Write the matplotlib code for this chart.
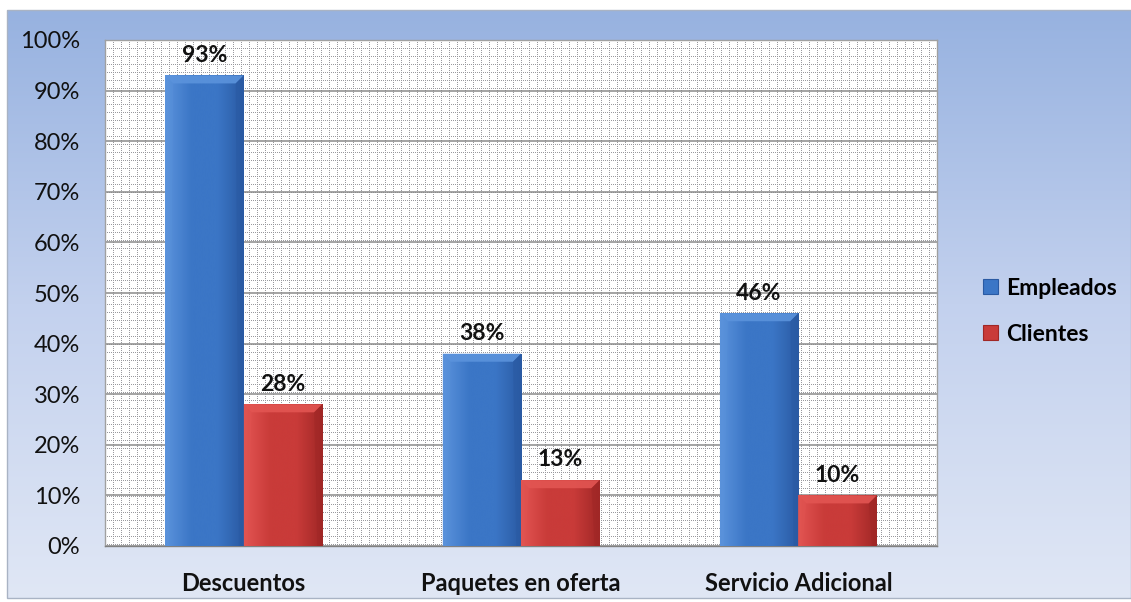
import numpy as np
import matplotlib.pyplot as plt
from matplotlib.colors import LinearSegmentedColormap
from matplotlib.patches import Polygon, Rectangle

categorias = ['Descuentos', 'Paquetes en oferta', 'Servicio Adicional']
empleados = [93, 38, 46]
clientes = [28, 13, 10]
series = [('Empleados', empleados), ('Clientes', clientes)]

# tonos por serie: claro, medio, oscuro
tonos = {
    'Empleados': ('#5b93dc', '#3b76c6', '#2a5aa3'),
    'Clientes': ('#e25552', '#c93b39', '#a02726'),
}

W, H, DPI = 1131, 602, 100
fig = plt.figure(figsize=(W / DPI, H / DPI), dpi=DPI)
fig.patch.set_facecolor('white')

# fondo del área del gráfico con degradado vertical
bg = fig.add_axes([0, 0, 1, 1], zorder=-5)
bg.set_xlim(0, W)
bg.set_ylim(H, 0)
bg.axis('off')
grad = np.linspace(0, 1, 256).reshape(-1, 1)
cmap_bg = LinearSegmentedColormap.from_list('bg', ['#97b2e0', '#c3d1ee', '#e0e7f5'])
bg.imshow(grad, cmap=cmap_bg, extent=[7, W, 598, 10], aspect='auto', interpolation='bicubic')
bg.add_patch(Rectangle((7, 10), W - 7, 588, fill=False, ec='#a9b3c4', lw=1))

# área de trazado
ax_l, ax_r, ax_t, ax_b = 105, 937, 40, 546
ax = fig.add_axes([ax_l / W, (H - ax_b) / H, (ax_r - ax_l) / W, (ax_b - ax_t) / H])
ax.set_xlim(-0.5, len(categorias) - 0.5)
ax.set_ylim(0, 100)

# trama de cuadrícula fina (puntos grises sobre blanco)
pw, ph = ax_r - ax_l, ax_b - ax_t
trama = np.ones((ph, pw, 3))
yy, xx = np.mgrid[0:ph, 0:pw]
puntos = ((xx % 8 == 0) & (yy % 2 == 0)) | ((yy % 8 == 0) & (xx % 2 == 0))
trama[puntos] = np.array([0.60, 0.60, 0.62])
ax.imshow(trama, extent=[0, 1, 0, 1], transform=ax.transAxes, aspect='auto',
          interpolation='nearest', zorder=0)

ax.set_yticks(range(0, 101, 10))
ax.yaxis.grid(True, color='#8a8a8a', lw=1.1, zorder=1)
ax.set_axisbelow(True)
ax.set_yticklabels([f'{v}%' for v in range(0, 101, 10)])
for s in ax.spines.values():
    s.set_color('#a0a0a0')
    s.set_linewidth(1)
ax.spines['bottom'].set_color('#808080')

x = np.arange(len(categorias))
ancho = 0.283
dx = 8 * (len(categorias) / pw)
dy = 8 * (100 / ph)

for i, (nombre, valores) in enumerate(series):
    claro, medio, oscuro = tonos[nombre]
    pos = x - ancho / 2 + i * ancho
    barras = ax.bar(pos, valores, width=ancho, color=medio, label=nombre, zorder=3,
                    edgecolor='none')
    cmap_h = LinearSegmentedColormap.from_list(nombre, [claro, medio, medio, oscuro])
    for b, v in zip(barras, valores):
        x0, w, h = b.get_x(), b.get_width(), b.get_height()
        # degradado horizontal dentro de la barra
        g = np.linspace(0, 1, 128).reshape(1, -1)
        im = ax.imshow(g, cmap=cmap_h, extent=[x0, x0 + w, 0, h], aspect='auto',
                       interpolation='bicubic', zorder=3.5)
        im.set_clip_path(b)
        # bisel superior y laterales
        ax.add_patch(Polygon([(x0, h), (x0 + w, h), (x0 + w - dx, h - dy), (x0 + dx, h - dy)],
                             closed=True, fc=claro, ec='none', alpha=0.9, zorder=4))
        ax.add_patch(Polygon([(x0 + w, h), (x0 + w, 0), (x0 + w - dx * 0.6, 0),
                              (x0 + w - dx, h - dy)],
                             closed=True, fc=oscuro, ec='none', alpha=0.6, zorder=4))
        ax.add_patch(Polygon([(x0, h), (x0, 0), (x0 + dx * 0.5, 0), (x0 + dx, h - dy)],
                             closed=True, fc=claro, ec='none', alpha=0.35, zorder=4))
        ax.annotate(f'{v}%', (x0 + w / 2, h), xytext=(0, 7), textcoords='offset points',
                    ha='center', va='bottom', fontsize=16.5, fontweight='bold',
                    family='Lato', color='#111111', zorder=6)

ax.set_xticks(x)
ax.set_xticklabels(categorias, fontsize=17, fontweight='bold', family='Lato', color='#111111')
ax.tick_params(axis='x', length=0, pad=19)
ax.tick_params(axis='y', length=0, pad=18, labelsize=17, labelcolor='#111111')
for t in ax.get_yticklabels():
    t.set_family('Lato')

# leyenda con marcadores cuadrados
leg = ax.legend(loc='center left', bbox_to_anchor=(1.055, 0.464), frameon=False,
                borderaxespad=0, borderpad=0,
                prop={'family': 'Lato', 'weight': 'bold', 'size': 16.5},
                handlelength=0.65, handleheight=0.65, handletextpad=0.35, labelspacing=1.1)
for h, nombre in zip(leg.legend_handles, ['Empleados', 'Clientes']):
    h.set_edgecolor(tonos[nombre][2])
    h.set_linewidth(0.8)

fig.savefig('out.png', dpi=DPI)
